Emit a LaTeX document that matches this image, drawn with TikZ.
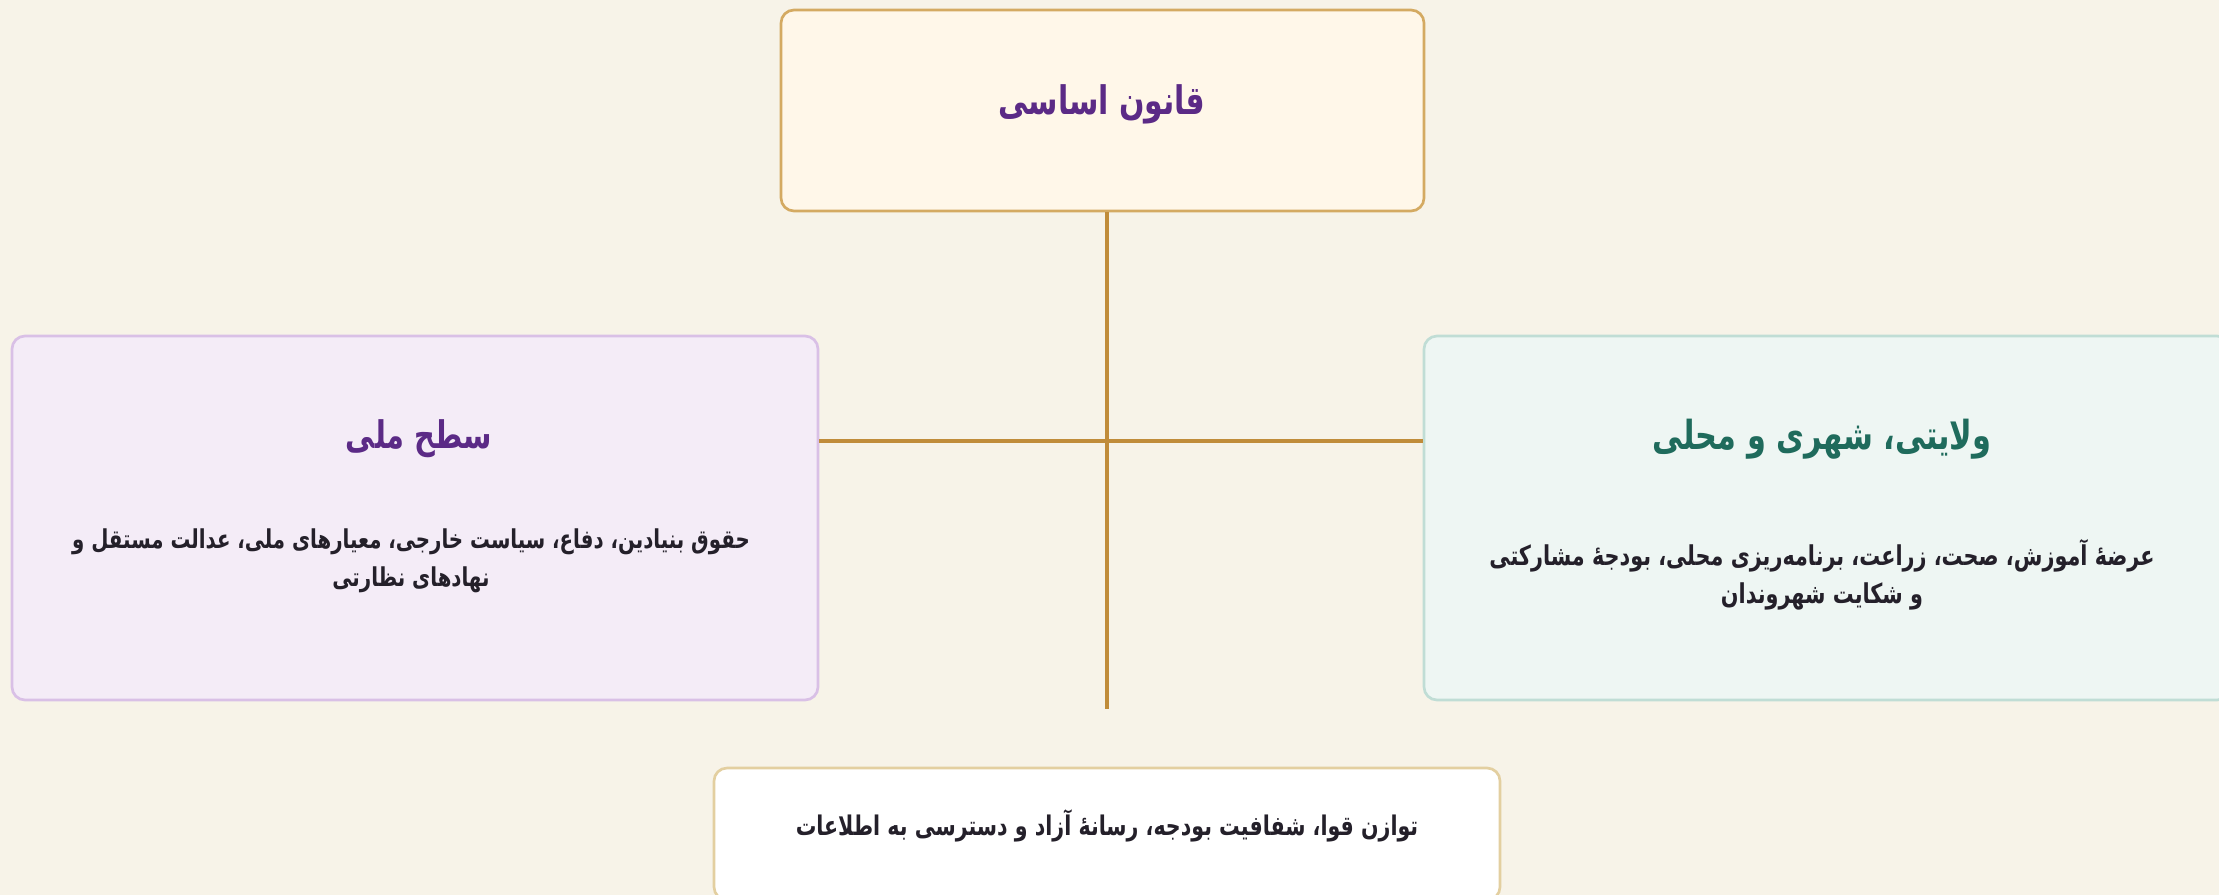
\documentclass[tikz,border=0pt]{standalone}
\usepackage{fontspec}
\newfontfamily\arabicfont[Script=Arabic, FakeStretch=0.76]{DejaVu Sans}
\TeXXeTstate=1
\definecolor{bg}{HTML}{F7F3E8}
\definecolor{topfill}{HTML}{FFF7E9}
\definecolor{topdraw}{HTML}{D4AA62}
\definecolor{leftfill}{HTML}{F4ECF7}
\definecolor{leftdraw}{HTML}{D9C0E6}
\definecolor{rightfill}{HTML}{EEF6F3}
\definecolor{rightdraw}{HTML}{C0DDD5}
\definecolor{botdraw}{HTML}{E3CFA0}
\definecolor{linecol}{HTML}{C08C3A}
\definecolor{purp}{HTML}{5B2A86}
\definecolor{teal}{HTML}{1F6B5C}
\definecolor{bodytxt}{HTML}{24202A}
\tikzset{
  box/.style={rectangle, rounded corners=9.75pt, line width=2pt, inner sep=0pt},
  title/.style={font=\arabicfont\bfseries\fontsize{29.5}{34}\selectfont, inner sep=0pt},
  body/.style={font=\arabicfont\bfseries\fontsize{20}{28.5}\selectfont, text=bodytxt, align=center, inner sep=0pt},
  conn/.style={draw=linecol, line width=3pt}
}
\begin{document}
\begin{tikzpicture}[x=0.75pt,y=-0.75pt]
\fill[bg] (0,0) rectangle (2219,895);
\useasboundingbox (0,0) rectangle (2219,895);
\clip (0,0) rectangle (2219,895);
% boxes
\node[box, fill=topfill, draw=topdraw, minimum width=482.25pt, minimum height=150.75pt] (top) at (1102.5,110.5) {};
\node[box, fill=leftfill, draw=leftdraw, minimum width=604.5pt, minimum height=273pt] (left) at (415,518) {};
\node[box, fill=rightfill, draw=rightdraw, minimum width=604.5pt, minimum height=273pt] (right) at (1827,518) {};
\node[box, fill=white, draw=botdraw, minimum width=589.5pt, minimum height=99pt] (bottom) at (1107,834) {};
% connectors
\coordinate (mid) at (1107,441);
\coordinate (vend) at (1107,709);
\draw[conn] (top.south -| mid) -- (vend);
\draw[conn] (left.east |- mid) -- (right.west |- mid);
% texts
\node[title, text=purp] (toptitle) at (1102,104) {\beginR قانون اساسی\endR};
\node[title, text=purp, font=\arabicfont\bfseries\fontsize{28.5}{34}\selectfont] (lefttitle) at (419,439) {\beginR سطح ملی\endR};
\node[body, font=\arabicfont\bfseries\fontsize{19.5}{28.5}\selectfont] (leftbody) at (411,561) {\beginR حقوق بنیادین، دفاع، سیاست خارجی، معیارهای ملی، عدالت مستقل و\endR\\\beginR نهادهای نظارتی\endR};
\node[title, text=teal, font=\arabicfont\bfseries\fontsize{30}{34}\selectfont] (righttitle) at (1822,439) {\beginR ولایتی، شهری و محلی\endR};
\node[body, font=\arabicfont\bfseries\fontsize{20.5}{28.5}\selectfont] (rightbody) at (1822,575) {\beginR عرضهٔ آموزش، صحت، زراعت، برنامه‌ریزی محلی، بودجهٔ مشارکتی\endR\\\beginR و شکایت شهروندان\endR};
\node[body, font=\arabicfont\bfseries\fontsize{20.3}{28.5}\selectfont] (bottomtext) at (1107,826) {\beginR توازن قوا، شفافیت بودجه، رسانهٔ آزاد و دسترسی به اطلاعات\endR};
\end{tikzpicture}
\end{document}
